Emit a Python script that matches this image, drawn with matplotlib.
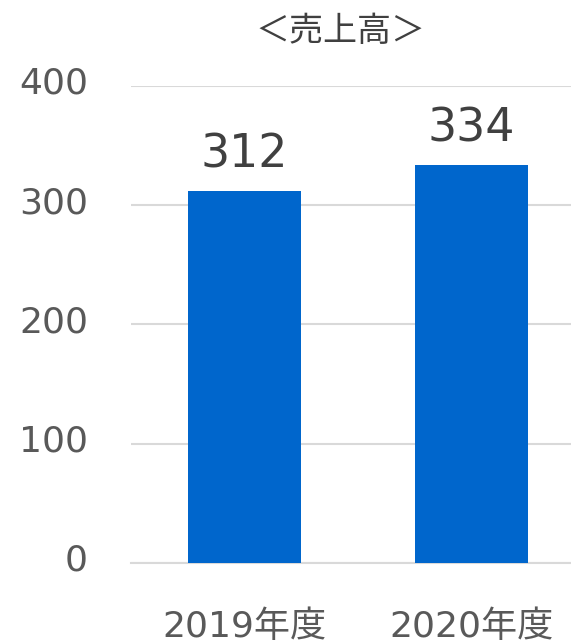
import matplotlib.pyplot as plt
import matplotlib.transforms as mtransforms

plt.rcParams['font.family'] = ['DejaVu Sans', 'Noto Sans CJK JP']

# data
years = ['2019年度', '2020年度']
sales = [312, 334]
y_ticks = [0, 100, 200, 300, 400]

fig = plt.figure(figsize=(5.71, 6.4), dpi=100)
ax = fig.add_axes([131 / 571, 0.1208, 454 / 571, 0.7448])

x = range(len(years))
bars = ax.bar(x, sales, width=0.5, color='#0066CC', zorder=3)

for b, v in zip(bars, sales):
    ax.text(b.get_x() + b.get_width() / 2, v + 11, str(v),
            ha='center', va='bottom', fontsize=33, color='#404040')

ax.set_xlim(-0.5, 1.5)
ax.set_ylim(0, 400)
ax.set_yticks(y_ticks)
ax.set_xticks(list(x))
ax.set_xticklabels(years)
ax.yaxis.grid(True, color='#D9D9D9', linewidth=1.5, zorder=0)
ax.tick_params(axis='y', length=0, pad=31, labelsize=26, labelcolor='#595959')
ax.tick_params(axis='x', length=0, pad=34, labelsize=26, labelcolor='#595959')
for side in ['top', 'right', 'left']:
    ax.spines[side].set_visible(False)
ax.spines['bottom'].set_color('#D9D9D9')
ax.spines['bottom'].set_linewidth(1.5)

# y labels sit a little above their gridlines
shift = mtransforms.ScaledTranslation(0, 4 / 72, fig.dpi_scale_trans)
for lbl in ax.get_yticklabels():
    lbl.set_transform(lbl.get_transform() + shift)

fig.text(340 / 571, 1 - 32 / 640, '＜売上高＞', ha='center', va='center',
         fontsize=24.5, color='#404040', family=['Noto Sans CJK JP'])

fig.savefig('out.png', dpi=100)
